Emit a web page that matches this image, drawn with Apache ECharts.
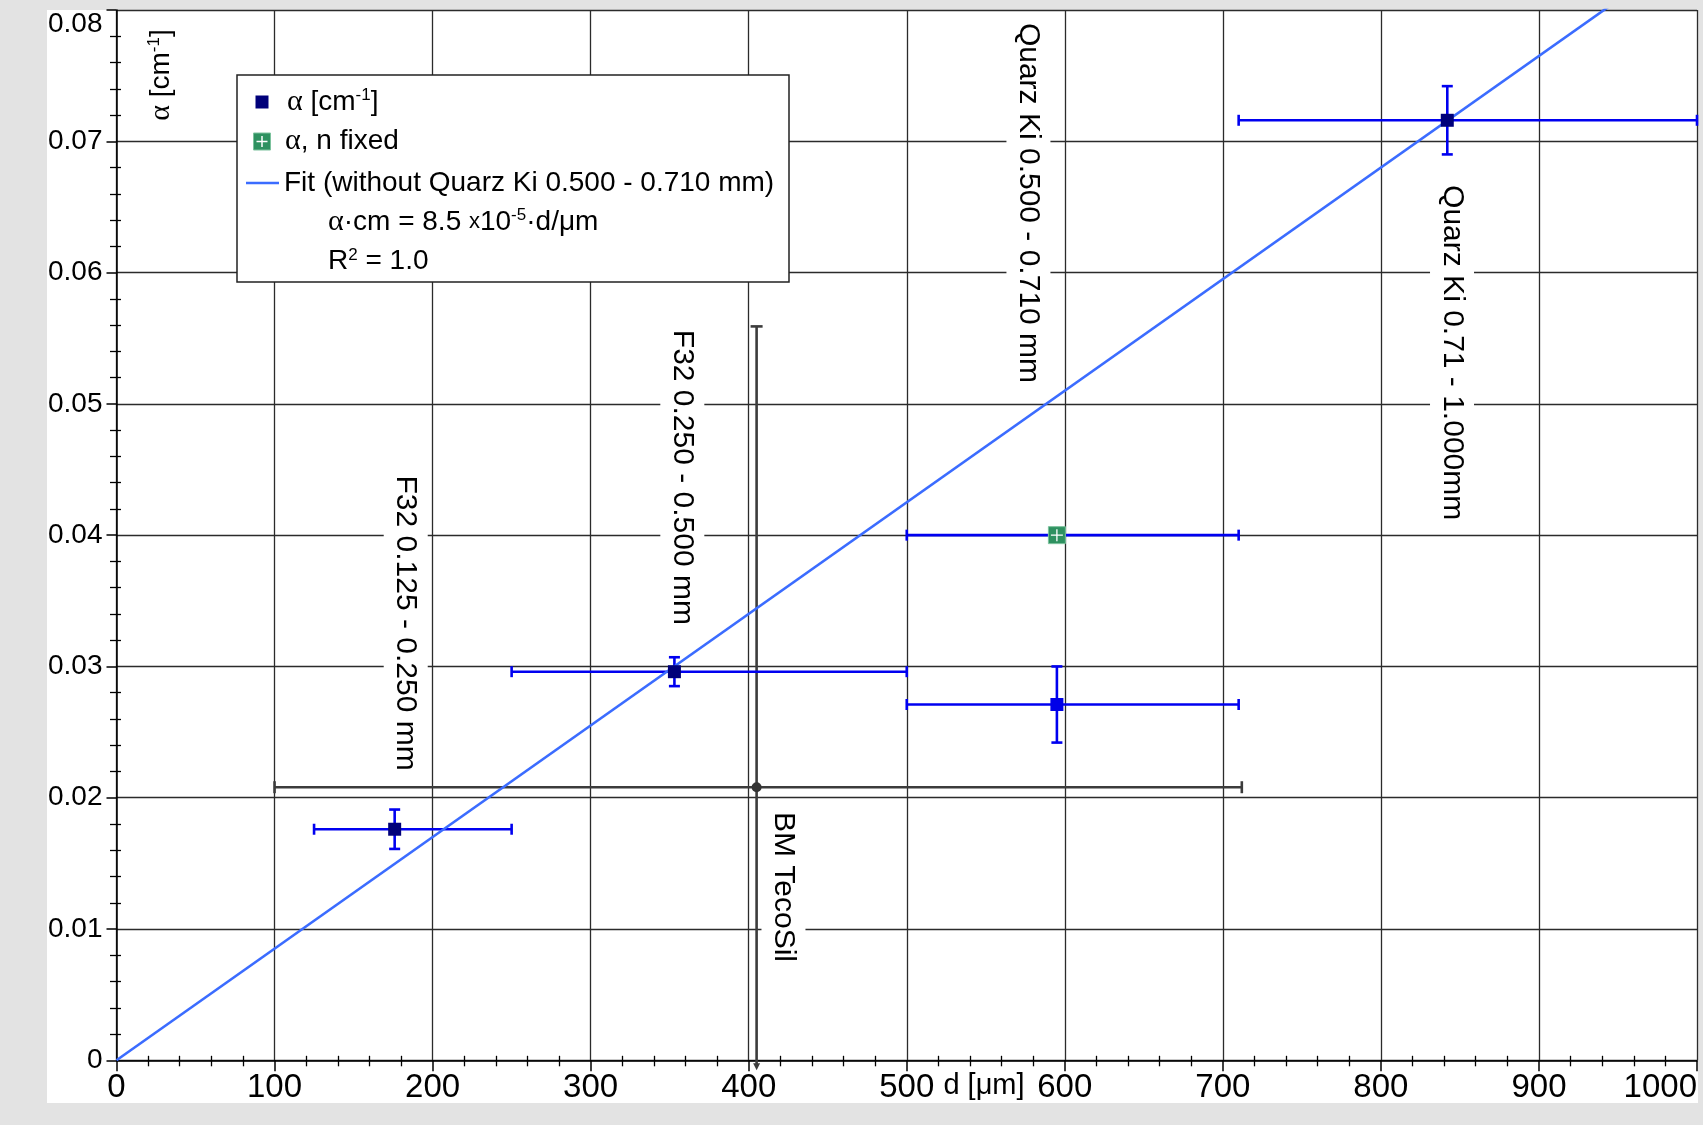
<!DOCTYPE html>
<html>
<head>
<meta charset="utf-8">
<title>alpha vs d</title>
<script src="https://cdn.jsdelivr.net/npm/echarts@6/dist/echarts.min.js"></script>
<style>
  html, body { margin: 0; padding: 0; background: #e3e3e3; }
  #panel { position: absolute; left: 47px; top: 10px; width: 1651px; height: 1093px; background: #fff; }
  #main { position: absolute; left: 0; top: 0; width: 1703px; height: 1125px; }
</style>
</head>
<body>
<div id="panel"></div>
<div id="main"></div>
<script>
// measured samples (alpha in 1/cm, d in micrometre)
const sampleNames = ['F32 0.125 - 0.250 mm', 'F32 0.250 - 0.500 mm', 'Quarz Ki 0.500 - 0.710 mm', 'Quarz Ki 0.71 - 1.000mm'];
const sampleD = [176, 353, 595, 842];
const sampleDMin = [125, 250, 500, 710];
const sampleDMax = [250, 500, 710, 1000];
const sampleAlpha = [0.0176, 0.0296, 0.0271, 0.0716];
const sampleAlphaErr = [0.0015, 0.0011, 0.0029, 0.0026];

// same Quarz Ki fraction, n fixed
const fixedD = [595];
const fixedDMin = [500];
const fixedDMax = [710];
const fixedAlpha = [0.0400];

// BM TecoSil
const tecoD = [405];
const tecoDMin = [100];
const tecoDMax = [712];
const tecoAlpha = [0.0208];
const tecoAlphaErr = [0.0351];

// fit line  alpha*cm = 8.5e-5 * d/um
const fitD = [0, 1000];
const fitAlpha = [0, 0.085];
const excludedFromFit = 'Quarz Ki 0.500 - 0.710 mm';

// rotated sample notes
const noteText = sampleNames.concat(['BM TecoSil']);
const noteD = [183, 358, 577, 845, 422];
const noteAlpha = [0.0333, 0.0444, 0.0653, 0.0539, 0.0132];

const SANS = '"Liberation Sans", Arial, sans-serif';
const NARROW = '"Liberation Sans Narrow", "Arial Narrow", "Liberation Sans", sans-serif';
const SERIF = '"Liberation Serif", "Times New Roman", serif';
const BLUE = '#0000f0';
const GREY = '#3c3c3c';
const GREEN = '#2e9160';

const rich = {
  g: { fontFamily: SERIF, fontSize: 30, fill: '#000' },
  sup: { fontFamily: SANS, fontSize: 17, verticalAlign: 'top', fill: '#000' },
  x: { fontFamily: SANS, fontSize: 22, fill: '#000' }
};

function errorBars(color, width, capHalf) {
  return function (params, api) {
    const d = api.value(0), a = api.value(1), err = api.value(4);
    const left = api.coord([api.value(2), a]);
    const right = api.coord([api.value(3), a]);
    const style = { stroke: color, lineWidth: width };
    const seg = (x1, y1, x2, y2) => ({ type: 'line', shape: { x1, y1, x2, y2 }, style });
    const kids = [
      seg(left[0], left[1], right[0], right[1]),
      seg(left[0], left[1] - capHalf, left[0], left[1] + capHalf),
      seg(right[0], right[1] - capHalf, right[0], right[1] + capHalf)
    ];
    if (err > 0) {
      const top = api.coord([d, a + err]);
      const bottom = api.coord([d, a - err]);
      const floor = api.coord([d, 0])[1];
      kids.push(seg(top[0], top[1], top[0], Math.min(bottom[1], floor + 4)));
      kids.push(seg(top[0] - capHalf, top[1], top[0] + capHalf, top[1]));
      if (bottom[1] > floor) {
        // runs below the axis: small arrow instead of a cap
        kids.push({
          type: 'polygon',
          shape: { points: [[top[0] - 3.5, floor + 3], [top[0] + 3.5, floor + 3], [top[0], floor + 10]] },
          style: { fill: color }
        });
      } else {
        kids.push(seg(bottom[0] - capHalf, bottom[1], bottom[0] + capHalf, bottom[1]));
      }
    }
    return { type: 'group', children: kids };
  };
}

const sampleRows = sampleD.map((d, i) => [d, sampleAlpha[i], sampleDMin[i], sampleDMax[i], sampleAlphaErr[i]]);
const fixedRows = fixedD.map((d, i) => [d, fixedAlpha[i], fixedDMin[i], fixedDMax[i], 0]);
const tecoRows = tecoD.map((d, i) => [d, tecoAlpha[i], tecoDMin[i], tecoDMax[i], tecoAlphaErr[i]]);

function hiddenTwin(extra) {
  // second axis only for the minor ticks that cross into the plot
  return Object.assign({
    type: 'value',
    axisLine: { show: false },
    axisLabel: { show: false },
    splitLine: { show: false },
    axisTick: { show: false, inside: true },
    minorTick: { show: true, splitNumber: 5, length: 4.5, lineStyle: { color: '#000', width: 1.3 } }
  }, extra);
}

// legend box pieces, all kept above the grid lines
const legendItems = [
  { type: 'rect', shape: { x: 0, y: 0, width: 552, height: 207 }, style: { fill: '#fff', stroke: '#222', lineWidth: 1.5 } },
  { type: 'rect', shape: { x: 18.5, y: 20.5, width: 13, height: 13 }, style: { fill: '#00007a' } },
  { type: 'text', x: 50, y: 27, style: { text: '{g|α} [cm{sup|-1}]', fontSize: 28, fontFamily: SANS, fill: '#000', verticalAlign: 'middle', rich } },
  { type: 'rect', shape: { x: 16.5, y: 58, width: 17, height: 17 }, style: { fill: GREEN, stroke: '#7cc29d', lineWidth: 1 } },
  { type: 'line', shape: { x1: 19.5, y1: 66.5, x2: 30.5, y2: 66.5 }, style: { stroke: '#fff', lineWidth: 1.5 } },
  { type: 'line', shape: { x1: 25, y1: 61, x2: 25, y2: 72 }, style: { stroke: '#fff', lineWidth: 1.5 } },
  { type: 'text', x: 48, y: 66, style: { text: '{g|α}, n fixed', fontSize: 28, fontFamily: SANS, fill: '#000', verticalAlign: 'middle', rich } },
  { type: 'line', shape: { x1: 9, y1: 108, x2: 42, y2: 108 }, style: { stroke: '#3b6cff', lineWidth: 2.6 } },
  { type: 'text', x: 47, y: 108, style: { text: 'Fit (without Quarz Ki 0.500 - 0.710 mm)', fontSize: 28, fontFamily: SANS, fill: '#000', verticalAlign: 'middle' } },
  { type: 'text', x: 91, y: 147, style: { text: '{g|α}·cm = 8.5 {x|x}10{sup|-5}·d/μm', fontSize: 28, fontFamily: SANS, fill: '#000', verticalAlign: 'middle', rich } },
  { type: 'text', x: 91, y: 186, style: { text: 'R{sup|2} = 1.0', fontSize: 28, fontFamily: SANS, fill: '#000', verticalAlign: 'middle', rich } }
].map(el => Object.assign({ z: 100 }, el));

const options = {
  animation: false,
  backgroundColor: 'transparent',
  grid: { left: 116.5, top: 10, right: 6, bottom: 64.7 },
  xAxis: [{
    type: 'value',
    min: 0,
    max: 1000,
    interval: 100,
    axisLine: { show: true, onZero: false, lineStyle: { color: '#000', width: 1.5 } },
    axisTick: { show: true, length: 11, lineStyle: { color: '#000', width: 1.5 } },
    minorTick: { show: true, splitNumber: 5, length: 6, lineStyle: { color: '#000', width: 1.3 } },
    splitLine: { show: true, lineStyle: { color: '#2b2b2b', width: 1.3 } },
    axisLabel: {
      color: '#000', fontSize: 33, fontFamily: NARROW, margin: 11, alignMaxLabel: 'right',
      formatter: v => String(v)
    }
  }, hiddenTwin({ min: 0, max: 1000, interval: 100, position: 'bottom' })],
  yAxis: [{
    type: 'value',
    min: 0,
    max: 0.08,
    interval: 0.01,
    axisLine: { show: true, onZero: false, lineStyle: { color: '#000', width: 1.5 } },
    axisTick: { show: true, length: 10, lineStyle: { color: '#000', width: 1.5 } },
    minorTick: { show: true, splitNumber: 5, length: 6.5, lineStyle: { color: '#000', width: 1.3 } },
    splitLine: { show: true, lineStyle: { color: '#2b2b2b', width: 1.3 } },
    axisLabel: {
      color: '#000', fontSize: 28, fontFamily: SANS, margin: 14,
      verticalAlignMaxLabel: 'top',
      formatter: v => (v === 0 ? '0' : v.toFixed(2))
    }
  }, hiddenTwin({ min: 0, max: 0.08, interval: 0.01, position: 'left' })],
  series: [
    {
      name: 'notes',
      type: 'custom',
      z: 1,
      data: noteD.map((d, i) => [d, noteAlpha[i]]),
      encode: { x: 0, y: 1 },
      renderItem: function (params, api) {
        const p = api.coord([api.value(0), api.value(1)]);
        return {
          type: 'text',
          x: p[0],
          y: p[1],
          rotation: -Math.PI / 2,
          style: {
            text: noteText[params.dataIndex],
            fontSize: 30,
            fontFamily: SANS,
            fill: '#000',
            align: 'center',
            verticalAlign: 'middle',
            backgroundColor: '#fff',
            padding: [7, 5]
          }
        };
      }
    },
    {
      name: 'fit',
      type: 'line',
      z: 3,
      data: fitD.map((d, i) => [d, fitAlpha[i]]),
      showSymbol: false,
      clip: true,
      lineStyle: { color: '#3b6cff', width: 2.6 }
    },
    {
      name: 'teco bars', type: 'custom', z: 3, data: tecoRows, encode: { x: 0, y: 1 },
      renderItem: errorBars(GREY, 2.6, 6)
    },
    {
      name: 'sample bars', type: 'custom', z: 3, data: sampleRows, encode: { x: 0, y: 1 },
      renderItem: errorBars(BLUE, 2.6, 5.5)
    },
    {
      name: 'fixed bars', type: 'custom', z: 3, data: fixedRows, encode: { x: 0, y: 1 },
      renderItem: errorBars(BLUE, 2.6, 5.5)
    },
    {
      name: 'BM TecoSil',
      type: 'scatter',
      z: 5,
      symbol: 'circle',
      symbolSize: 10,
      itemStyle: { color: '#333', opacity: 1 },
      data: tecoD.map((d, i) => [d, tecoAlpha[i]])
    },
    {
      name: 'α [cm-1]',
      type: 'scatter',
      z: 5,
      symbol: 'rect',
      symbolSize: 13,
      itemStyle: { opacity: 1 },
      data: sampleD.map((d, i) => ({
        value: [d, sampleAlpha[i]],
        itemStyle: { color: sampleNames[i] === excludedFromFit ? '#0000e8' : '#00007a', opacity: 1 }
      }))
    },
    {
      name: 'α, n fixed',
      type: 'scatter',
      z: 5,
      symbol: 'rect',
      symbolSize: 17,
      itemStyle: { color: GREEN, borderColor: '#7cc29d', borderWidth: 1, opacity: 1 },
      data: fixedD.map((d, i) => [d, fixedAlpha[i]])
    },
    {
      name: 'α, n fixed plus',
      type: 'scatter',
      z: 6,
      symbol: 'path://M0,5.35H12V6.65H0Z M5.35,0H6.65V12H5.35Z',
      symbolSize: 12,
      itemStyle: { color: '#fff', opacity: 1 },
      data: fixedD.map((d, i) => [d, fixedAlpha[i]])
    }
  ],
  graphic: [
    { type: 'group', x: 237, y: 75, z: 100, children: legendItems },
    {
      type: 'text',
      x: 161,
      y: 75,
      z: 100,
      rotation: Math.PI / 2,
      style: { text: '{g|α} [cm{sup|-1}]', fontSize: 28, fontFamily: SANS, fill: '#000', align: 'center', verticalAlign: 'middle', rich }
    },
    {
      type: 'text',
      x: 984,
      y: 1086,
      z: 100,
      style: { text: 'd [μm]', fontSize: 29, fontFamily: NARROW, fill: '#000', align: 'center', verticalAlign: 'middle' }
    }
  ]
};

const myChart = echarts.init(document.getElementById('main'));
myChart.setOption(options);
window.onresize = function () {
  myChart.resize();
};
</script>
</body>
</html>
